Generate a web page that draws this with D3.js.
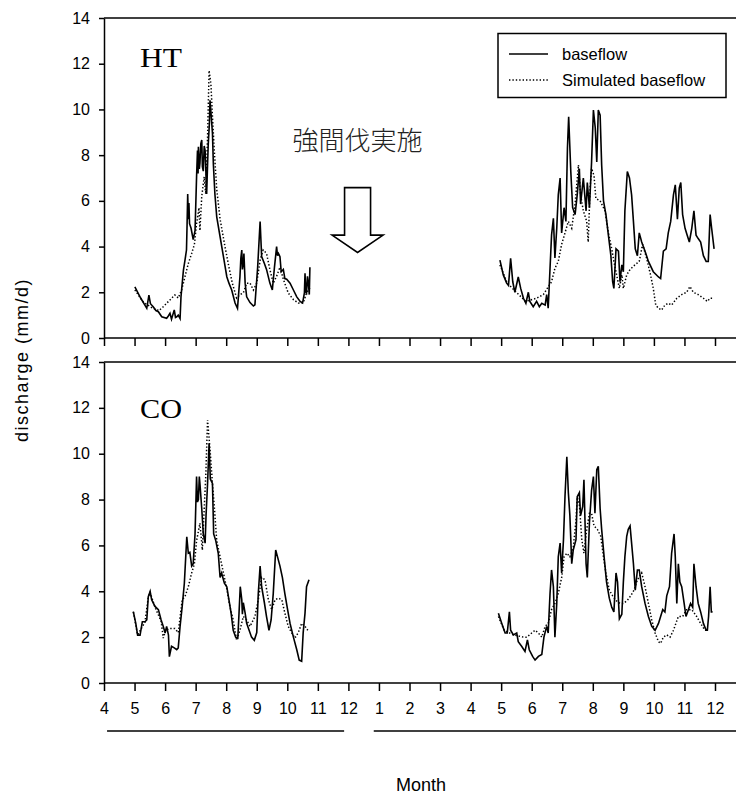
<!DOCTYPE html>
<html><head><meta charset="utf-8">
<script src="https://cdn.jsdelivr.net/npm/d3@7"></script>
<style>
body{margin:0;background:#fff}
svg{display:block}
text{font-family:"Liberation Sans",Arial,sans-serif;fill:#000}
</style>
</head><body>
<svg id="c" width="736" height="794"></svg>
<script>
// ---------------- data ----------------
// x = month position (0 = April of year 1, 8 = December, 9 = January of year 2, 20 = December of year 2)
const monthLabels = ["4","5","6","7","8","9","10","11","12","1","2","3","4","5","6","7","8","9","10","11","12"];
const yTicks = [0,2,4,6,8,10,12,14];
const seriesNames = ["baseflow","Simulated baseflow"];
const panelNames = ["HT","CO"];
const annotation = "強間伐実施";
const periodBars = [[0.1,7.86],[8.83,21]];

const htBase1 = [[1.01,2.24],[1.20,1.75],[1.40,1.30],[1.47,1.88],[1.52,1.5],[1.61,1.37],[1.70,1.2],[1.78,1.15],[1.89,0.93],[2.05,0.86],[2.10,0.95],[2.16,1.08],[2.21,0.82],[2.30,1.23],[2.34,0.9],[2.38,0.93],[2.43,1.0],[2.49,0.85],[2.52,1.8],[2.60,2.97],[2.65,3.4],[2.70,3.85],[2.72,5.0],[2.74,6.3],[2.76,5.2],[2.78,5.9],[2.80,5.0],[2.85,4.8],[2.92,4.3],[2.98,4.7],[3.03,7.05],[3.06,8.2],[3.08,7.2],[3.09,8.37],[3.12,7.4],[3.14,7.65],[3.17,8.5],[3.20,8.66],[3.22,7.5],[3.25,7.3],[3.28,8.4],[3.31,8.2],[3.36,6.3],[3.41,8.4],[3.45,9.4],[3.47,10.4],[3.50,9.9],[3.55,8.96],[3.58,7.6],[3.63,6.3],[3.69,5.3],[3.80,4.43],[3.91,3.56],[4.02,2.68],[4.09,2.4],[4.18,2.1],[4.29,1.53],[4.37,1.3],[4.45,2.68],[4.48,3.5],[4.51,3.85],[4.53,3.0],[4.56,3.26],[4.58,3.7],[4.62,2.4],[4.67,1.8],[4.78,1.55],[4.89,1.4],[4.94,1.45],[5.03,3.1],[5.11,5.1],[5.16,3.56],[5.25,3.26],[5.32,3.0],[5.43,2.4],[5.51,2.1],[5.58,3.1],[5.65,4.0],[5.68,3.6],[5.71,3.7],[5.76,3.56],[5.80,2.9],[5.87,3.0],[5.92,2.6],[5.98,2.57],[6.09,2.4],[6.20,2.1],[6.31,1.8],[6.42,1.6],[6.50,1.53],[6.56,1.97],[6.58,2.83],[6.61,2.0],[6.63,1.97],[6.66,2.7],[6.69,2.4],[6.72,1.9],[6.74,3.1]];
const htSim1 = [[1.01,2.1],[1.30,1.55],[1.60,1.3],[1.80,1.2],[1.94,1.37],[2.11,1.6],[2.32,1.88],[2.43,1.75],[2.54,2.1],[2.65,2.68],[2.76,3.26],[2.87,3.7],[2.96,4.1],[3.03,5.0],[3.11,5.7],[3.14,4.7],[3.20,6.2],[3.28,7.05],[3.33,6.3],[3.39,8.8],[3.44,11.7],[3.50,11.1],[3.55,9.7],[3.61,8.2],[3.69,6.5],[3.80,5.2],[3.96,4.0],[4.09,3.1],[4.20,2.4],[4.34,1.75],[4.45,1.9],[4.56,1.97],[4.67,2.4],[4.78,2.4],[4.89,2.1],[5.00,2.4],[5.11,3.4],[5.21,3.85],[5.32,3.7],[5.43,3.0],[5.54,2.4],[5.65,2.7],[5.76,3.1],[5.87,2.57],[6.03,1.97],[6.20,1.68],[6.36,1.53],[6.52,1.53],[6.63,1.97],[6.74,2.2]];
const htBase2 = [[12.96,3.41],[13.07,2.76],[13.18,2.4],[13.24,2.3],[13.31,3.49],[13.38,2.46],[13.45,2.0],[13.56,2.67],[13.64,2.17],[13.73,1.74],[13.81,1.52],[13.89,2.0],[13.94,1.6],[14.05,1.37],[14.16,1.6],[14.25,1.37],[14.33,1.52],[14.44,1.44],[14.49,1.9],[14.54,1.3],[14.60,3.05],[14.65,4.5],[14.71,5.24],[14.76,3.5],[14.82,4.8],[14.87,6.26],[14.93,7.0],[14.98,4.6],[15.06,5.7],[15.12,5.1],[15.17,8.3],[15.21,9.68],[15.28,7.28],[15.34,5.7],[15.42,5.4],[15.49,6.26],[15.56,7.4],[15.60,5.86],[15.69,7.0],[15.78,5.56],[15.82,6.8],[15.89,5.7],[15.96,7.7],[16.02,9.97],[16.08,9.2],[16.13,7.7],[16.18,9.97],[16.24,9.75],[16.29,7.57],[16.35,6.0],[16.43,5.4],[16.51,4.5],[16.59,3.63],[16.65,2.46],[16.69,2.17],[16.76,3.9],[16.84,3.8],[16.89,2.46],[16.95,3.2],[17.00,2.9],[17.05,5.56],[17.13,7.28],[17.20,7.0],[17.27,6.26],[17.33,5.1],[17.39,3.9],[17.46,3.6],[17.52,4.6],[17.60,4.2],[17.71,3.8],[17.82,3.35],[17.98,2.9],[18.15,2.67],[18.22,2.6],[18.31,3.8],[18.40,3.9],[18.47,4.6],[18.55,5.1],[18.64,6.26],[18.70,6.7],[18.77,5.2],[18.83,6.56],[18.88,6.8],[18.94,5.4],[19.02,4.8],[19.09,4.5],[19.16,4.2],[19.24,4.8],[19.31,5.56],[19.38,4.5],[19.45,4.35],[19.53,4.2],[19.62,3.6],[19.71,3.35],[19.78,3.35],[19.84,5.4],[19.89,4.8],[19.97,3.9]];
const htSim2 = [[12.96,3.2],[13.20,2.4],[13.50,2.0],[13.80,1.6],[14.16,1.74],[14.38,1.9],[14.65,2.46],[14.76,3.05],[14.87,3.35],[14.98,4.1],[15.09,4.6],[15.20,5.1],[15.31,4.8],[15.42,5.86],[15.53,7.57],[15.60,6.26],[15.69,5.56],[15.80,5.1],[15.85,4.2],[15.91,6.56],[15.96,7.42],[16.04,7.1],[16.10,6.1],[16.24,6.0],[16.40,5.56],[16.51,4.6],[16.62,3.9],[16.69,3.35],[16.78,2.76],[16.87,2.17],[16.95,2.76],[17.00,2.17],[17.11,2.76],[17.22,3.0],[17.38,3.2],[17.52,3.35],[17.63,4.1],[17.76,3.5],[17.89,2.76],[17.98,2.17],[18.06,1.44],[18.15,1.3],[18.25,1.22],[18.36,1.44],[18.47,1.52],[18.58,1.44],[18.75,1.74],[18.91,1.9],[19.07,2.0],[19.18,2.25],[19.29,2.0],[19.45,1.9],[19.62,1.74],[19.75,1.6],[19.84,1.74],[19.95,1.74]];

const coBase1 = [[0.96,3.11],[1.04,2.6],[1.10,2.09],[1.18,2.09],[1.255,2.67],[1.34,2.67],[1.40,2.75],[1.45,3.77],[1.51,4.0],[1.56,3.63],[1.67,3.34],[1.78,3.2],[1.87,2.75],[1.94,2.47],[2.00,2.18],[2.05,2.47],[2.11,2.09],[2.14,1.15],[2.21,1.6],[2.30,1.53],[2.38,1.45],[2.43,1.53],[2.49,2.47],[2.56,3.34],[2.63,4.35],[2.71,6.38],[2.76,5.66],[2.81,5.7],[2.87,5.1],[2.92,5.2],[2.98,6.5],[3.03,9.0],[3.06,7.9],[3.09,8.0],[3.12,9.0],[3.14,8.7],[3.20,7.6],[3.25,6.5],[3.31,6.1],[3.34,7.3],[3.39,8.7],[3.44,10.45],[3.48,8.9],[3.55,8.7],[3.59,6.5],[3.66,6.2],[3.74,5.66],[3.80,4.6],[3.85,4.8],[3.94,4.35],[4.02,4.2],[4.09,3.63],[4.16,3.05],[4.23,2.3],[4.31,2.0],[4.38,1.96],[4.42,3.05],[4.46,4.2],[4.51,3.63],[4.53,3.0],[4.56,3.5],[4.62,3.05],[4.67,2.6],[4.75,2.3],[4.83,2.0],[4.92,1.86],[5.00,2.2],[5.05,3.9],[5.11,5.1],[5.16,4.2],[5.25,3.5],[5.32,2.9],[5.40,2.3],[5.47,2.75],[5.54,3.9],[5.62,5.8],[5.68,5.5],[5.76,5.1],[5.84,4.6],[5.92,3.9],[6.01,3.2],[6.09,2.6],[6.20,2.0],[6.31,1.45],[6.39,1.0],[6.47,0.95],[6.52,2.2],[6.58,3.05],[6.63,4.2],[6.71,4.5]];
const coSim1 = [[0.96,3.1],[1.10,2.1],[1.34,2.65],[1.45,3.75],[1.51,3.95],[1.67,3.3],[1.87,2.7],[1.94,1.96],[2.02,2.3],[2.16,2.38],[2.32,2.38],[2.43,2.2],[2.56,3.63],[2.65,3.77],[2.76,4.2],[2.87,4.8],[2.96,5.2],[3.03,6.2],[3.14,6.97],[3.22,5.8],[3.28,7.6],[3.33,9.0],[3.39,11.47],[3.47,10.2],[3.55,8.7],[3.61,7.7],[3.69,6.2],[3.80,5.5],[3.91,4.8],[4.02,4.1],[4.12,3.34],[4.23,2.75],[4.34,1.86],[4.45,2.3],[4.56,2.9],[4.67,2.75],[4.78,2.47],[4.94,2.9],[5.05,3.63],[5.16,4.6],[5.27,4.5],[5.38,3.63],[5.49,3.2],[5.60,3.63],[5.71,3.7],[5.82,3.63],[5.92,3.05],[6.03,2.47],[6.14,2.2],[6.25,1.96],[6.36,2.2],[6.47,2.6],[6.58,2.47],[6.67,2.3]];
const coBase2 = [[12.91,3.04],[13.02,2.6],[13.13,2.18],[13.20,2.18],[13.27,3.1],[13.31,2.3],[13.40,2.1],[13.51,2.18],[13.56,1.8],[13.67,1.6],[13.78,1.38],[13.86,1.88],[13.92,1.45],[14.03,1.16],[14.11,1.0],[14.22,1.16],[14.33,1.24],[14.40,2.0],[14.49,2.47],[14.54,2.18],[14.60,3.9],[14.65,4.93],[14.71,4.2],[14.76,2.0],[14.82,3.47],[14.87,5.5],[14.93,6.1],[14.98,4.8],[15.04,6.25],[15.09,8.13],[15.15,9.87],[15.20,8.3],[15.25,7.3],[15.31,5.2],[15.36,5.8],[15.45,6.25],[15.49,8.13],[15.56,8.3],[15.60,7.3],[15.67,7.7],[15.71,8.86],[15.78,5.2],[15.82,4.6],[15.89,7.0],[15.96,8.4],[16.02,9.0],[16.07,7.4],[16.13,9.3],[16.18,9.45],[16.24,7.6],[16.29,6.7],[16.37,5.5],[16.45,4.4],[16.54,3.7],[16.62,3.3],[16.69,3.1],[16.76,4.8],[16.81,4.4],[16.87,2.8],[16.95,3.0],[17.00,4.4],[17.05,5.5],[17.11,6.4],[17.16,6.7],[17.22,6.85],[17.27,6.1],[17.33,5.2],[17.39,4.05],[17.46,4.93],[17.52,4.93],[17.60,4.2],[17.71,3.47],[17.82,2.9],[17.93,2.47],[18.04,2.3],[18.15,2.6],[18.22,2.9],[18.29,3.2],[18.36,3.1],[18.42,3.8],[18.51,4.2],[18.58,5.66],[18.66,6.5],[18.70,5.5],[18.75,3.47],[18.80,5.2],[18.85,4.4],[18.91,4.2],[18.99,3.47],[19.05,2.9],[19.13,3.2],[19.20,3.47],[19.27,3.3],[19.31,5.2],[19.38,4.2],[19.45,3.47],[19.53,3.1],[19.62,2.6],[19.71,2.3],[19.75,2.3],[19.79,2.9],[19.84,4.2],[19.88,3.1],[19.92,3.1]];
const coSim2 = [[12.91,2.9],[13.10,2.3],[13.40,2.1],[13.73,2.0],[13.84,2.0],[14.00,2.18],[14.11,2.3],[14.22,2.18],[14.33,2.0],[14.44,2.47],[14.54,2.6],[14.65,3.2],[14.76,3.47],[14.87,3.9],[14.98,4.6],[15.06,5.5],[15.15,5.66],[15.25,5.5],[15.36,5.9],[15.45,7.1],[15.49,8.1],[15.56,7.8],[15.64,6.25],[15.71,5.66],[15.80,6.7],[15.89,7.4],[15.96,7.4],[16.04,6.85],[16.15,6.7],[16.26,6.4],[16.35,5.5],[16.43,4.8],[16.54,4.05],[16.65,3.8],[16.76,3.6],[16.89,3.47],[17.00,3.47],[17.13,3.6],[17.24,3.8],[17.35,4.05],[17.46,4.5],[17.60,4.8],[17.71,4.2],[17.82,3.47],[17.93,2.75],[18.04,2.18],[18.15,1.8],[18.22,1.73],[18.31,2.0],[18.42,2.1],[18.53,2.0],[18.64,2.3],[18.80,2.9],[18.94,2.9],[19.07,3.2],[19.24,3.2],[19.40,2.9],[19.53,2.6],[19.67,2.3],[19.78,2.3]];

// ---------------- drawing ----------------
const svg = d3.select("#c");
const W = 736;
const x = d3.scaleLinear().domain([0,20]).range([104,715]);

const panels = [
  {name: panelNames[0], top: 18, bottom: 338, base: [htBase1, htBase2], sim: [htSim1, htSim2], labelY: 67, legend: true, arrow: true, xLabels: false},
  {name: panelNames[1], top: 362, bottom: 683, base: [coBase1, coBase2], sim: [coSim1, coSim2], labelY: 418, legend: false, arrow: false, xLabels: true}
];

panels.forEach(p => {
  const y = d3.scaleLinear().domain([0,14]).range([p.bottom, p.top]);
  const g = svg.append("g");

  g.append("line").attr("x1", 104).attr("x2", W).attr("y1", p.top).attr("y2", p.top)
    .attr("stroke", "#000").attr("stroke-width", 1.5);
  g.append("line").attr("x1", 104).attr("x2", W).attr("y1", p.bottom).attr("y2", p.bottom)
    .attr("stroke", "#000").attr("stroke-width", 1.5);

  const ya = g.append("g").attr("transform", `translate(104,0)`)
    .call(d3.axisLeft(y).tickValues(yTicks).tickSize(5).tickSizeOuter(0).tickPadding(9));
  ya.select(".domain").attr("stroke-width", 1.5);
  ya.selectAll(".tick line").attr("stroke-width", 1.5);
  ya.selectAll("text").style("font-size", "16px").style("font-family", '"Liberation Sans",Arial,sans-serif');

  const xa = g.append("g").attr("transform", `translate(0,${p.bottom})`)
    .call(d3.axisBottom(x).tickValues(d3.range(0,21)).tickSize(8).tickSizeOuter(0).tickPadding(12)
      .tickFormat((d,i) => p.xLabels ? monthLabels[i] : ""));
  xa.select(".domain").remove();
  xa.selectAll(".tick line").attr("stroke-width", 1.5);
  xa.selectAll("text").style("font-size", "16px").style("font-family", '"Liberation Sans",Arial,sans-serif');

  const line = d3.line().x(d => x(d[0])).y(d => y(d[1]));

  p.sim.forEach(s => g.append("path").datum(s).attr("d", line)
    .attr("fill", "none").attr("stroke", "#000").attr("stroke-width", 1.5)
    .attr("stroke-dasharray", "1.4 2"));
  p.base.forEach(s => g.append("path").datum(s).attr("d", line)
    .attr("fill", "none").attr("stroke", "#000").attr("stroke-width", 1.6));

  g.append("text").attr("x", 140).attr("y", p.labelY).text(p.name)
    .style("font-family", '"Liberation Serif","Times New Roman",serif').style("font-size", "27px")
    .attr("textLength", 42).attr("lengthAdjust", "spacingAndGlyphs");

  if (p.legend) {
    const lg = g.append("g");
    lg.append("rect").attr("x", 498).attr("y", 33.5).attr("width", 228).attr("height", 64)
      .attr("fill", "#fff").attr("stroke", "#000").attr("stroke-width", 1.5);
    seriesNames.forEach((n, i) => {
      const yy = 54 + i * 26;
      lg.append("line").attr("x1", 509).attr("x2", 548).attr("y1", yy).attr("y2", yy)
        .attr("stroke", "#000").attr("stroke-width", 1.4)
        .attr("stroke-dasharray", i === 1 ? "1.4 2" : null);
      lg.append("text").attr("x", 562).attr("y", yy + 6).text(n).style("font-size", "16.5px");
    });
  }

  if (p.arrow) {
    const ax = x(8.3), yTop = y(6.58), yShoulder = y(4.5), yTip = y(3.74);
    const sw = 13, hw = 25.5;
    g.append("path")
      .attr("d", `M${ax-sw},${yTop} L${ax+sw},${yTop} L${ax+sw},${yShoulder} L${ax+hw},${yShoulder} L${ax},${yTip} L${ax-hw},${yShoulder} L${ax-sw},${yShoulder} Z`)
      .attr("fill", "#fff").attr("stroke", "#000").attr("stroke-width", 1.6);
    g.append("text").attr("x", ax).attr("y", 150).attr("text-anchor", "middle")
      .text(annotation)
      .style("font-family", '"Noto Sans CJK JP","Noto Sans CJK SC",sans-serif')
      .style("font-size", "26px").style("font-weight", "300").style("fill", "#222");
  }
});

svg.selectAll(".period").data(periodBars).enter().append("line")
  .attr("x1", d => x(d[0])).attr("x2", d => Math.min(W, x(d[1])))
  .attr("y1", 731).attr("y2", 731).attr("stroke", "#000").attr("stroke-width", 1.5);

svg.append("text").attr("transform", "translate(28,360) rotate(-90)").attr("text-anchor", "middle")
  .text("discharge (mm/d)").style("font-size", "18px").style("letter-spacing", "1.5px");
svg.append("text").attr("x", 421).attr("y", 791).attr("text-anchor", "middle")
  .text("Month").style("font-size", "18px");
</script>
</body></html>
